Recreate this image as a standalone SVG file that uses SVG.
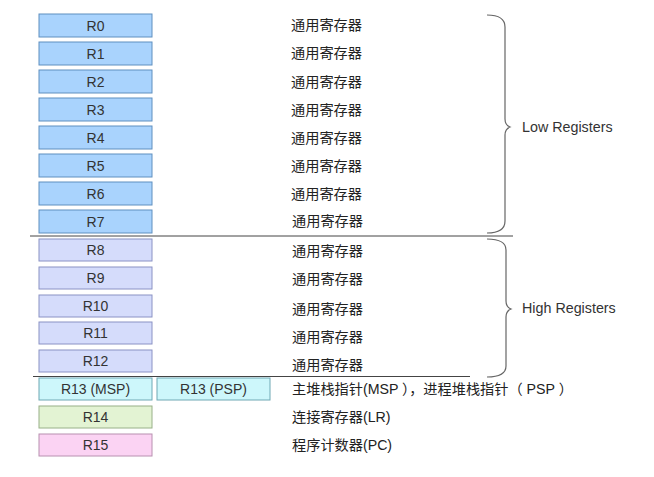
<svg xmlns="http://www.w3.org/2000/svg" width="654" height="477" viewBox="0 0 654 477">
<style>
.box{stroke-width:1}
.low{fill:#a9d3fd;stroke:#5f8fbf}
.high{fill:#d5dcfb;stroke:#8a92c4}
.sp{fill:#cdf7fb;stroke:#6fa8b4}
.lr{fill:#e3f3d3;stroke:#98b088}
.pc{fill:#fbd3f3;stroke:#b890b0}
.lbl{font-family:"Liberation Sans",Arial,sans-serif;font-size:14px;fill:#333;text-anchor:middle}
.cn{font-family:"Liberation Sans","Noto Sans CJK SC",sans-serif;font-size:14.2px;fill:#222}
.en{font-family:"Liberation Sans",Arial,sans-serif;font-size:14.3px;fill:#333}
.brace{fill:none;stroke:#666;stroke-width:1.2}
.sep{stroke:#444;stroke-width:1}
</style>
<rect width="654" height="477" fill="#fff"/>
<g id="R0"><rect class="box low" x="39" y="14" width="113" height="23"/><text class="lbl" x="95.5" y="30.5">R0</text><text class="cn" x="291" y="30">通用寄存器</text></g>
<g id="R1"><rect class="box low" x="39" y="42" width="113" height="23"/><text class="lbl" x="95.5" y="58.5">R1</text><text class="cn" x="291" y="58">通用寄存器</text></g>
<g id="R2"><rect class="box low" x="39" y="70" width="113" height="23"/><text class="lbl" x="95.5" y="86.5">R2</text><text class="cn" x="291" y="87">通用寄存器</text></g>
<g id="R3"><rect class="box low" x="39" y="98" width="113" height="23"/><text class="lbl" x="95.5" y="114.5">R3</text><text class="cn" x="291" y="115">通用寄存器</text></g>
<g id="R4"><rect class="box low" x="39" y="126" width="113" height="23"/><text class="lbl" x="95.5" y="142.5">R4</text><text class="cn" x="291" y="143">通用寄存器</text></g>
<g id="R5"><rect class="box low" x="39" y="154" width="113" height="23"/><text class="lbl" x="95.5" y="170.5">R5</text><text class="cn" x="291" y="171">通用寄存器</text></g>
<g id="R6"><rect class="box low" x="39" y="182" width="113" height="23"/><text class="lbl" x="95.5" y="198.5">R6</text><text class="cn" x="291" y="199">通用寄存器</text></g>
<g id="R7"><rect class="box low" x="39" y="210" width="113" height="23"/><text class="lbl" x="95.5" y="226.5">R7</text><text class="cn" x="292" y="226">通用寄存器</text></g>
<g id="R8"><rect class="box high" x="39" y="239" width="113" height="22"/><text class="lbl" x="95.5" y="255">R8</text><text class="cn" x="292" y="256">通用寄存器</text></g>
<g id="R9"><rect class="box high" x="39" y="267" width="113" height="22"/><text class="lbl" x="95.5" y="283">R9</text><text class="cn" x="292" y="284">通用寄存器</text></g>
<g id="R10"><rect class="box high" x="39" y="295" width="113" height="22"/><text class="lbl" x="95.5" y="311">R10</text><text class="cn" x="292" y="314">通用寄存器</text></g>
<g id="R11"><rect class="box high" x="39" y="322" width="113" height="22"/><text class="lbl" x="95.5" y="338">R11</text><text class="cn" x="292" y="342">通用寄存器</text></g>
<g id="R12"><rect class="box high" x="39" y="350" width="113" height="22"/><text class="lbl" x="95.5" y="366">R12</text><text class="cn" x="292" y="370">通用寄存器</text></g>
<g id="R13"><rect class="box sp" x="39" y="378" width="113" height="22"/><text class="lbl" x="95.5" y="394">R13 (MSP)</text><rect class="box sp" x="157" y="378" width="113" height="22"/><text class="lbl" x="213.5" y="394">R13 (PSP)</text><text class="cn" x="292" y="394">主堆栈指针(MSP ），进程堆栈指针（ PSP ）</text></g>
<g id="R14"><rect class="box lr" x="39" y="406" width="113" height="22"/><text class="lbl" x="95.5" y="422">R14</text><text class="cn" x="292" y="422">连接寄存器(LR)</text></g>
<g id="R15"><rect class="box pc" x="39" y="434" width="113" height="22"/><text class="lbl" x="95.5" y="450">R15</text><text class="cn" x="292" y="450">程序计数器(PC)</text></g>
<g id="connectors">
<line class="sep" x1="30" y1="236" x2="513" y2="236"/>
<line class="sep" x1="33" y1="376.5" x2="470" y2="376.5"/>
<path class="brace" d="M487,15 Q505,15 505,27 L505,119 Q505,125 510,127 Q505,129 505,135 L505,221 Q505,233 487,233"/>
<path class="brace" d="M487,239 Q506,239 506,250 L506,301 Q506,307 511,309 Q506,311 506,317 L506,366 Q506,377 487,377"/>
</g>
<g id="labels">
<text class="en" x="522" y="132">Low Registers</text>
<text class="en" x="522" y="313">High Registers</text>
</g>
</svg>
